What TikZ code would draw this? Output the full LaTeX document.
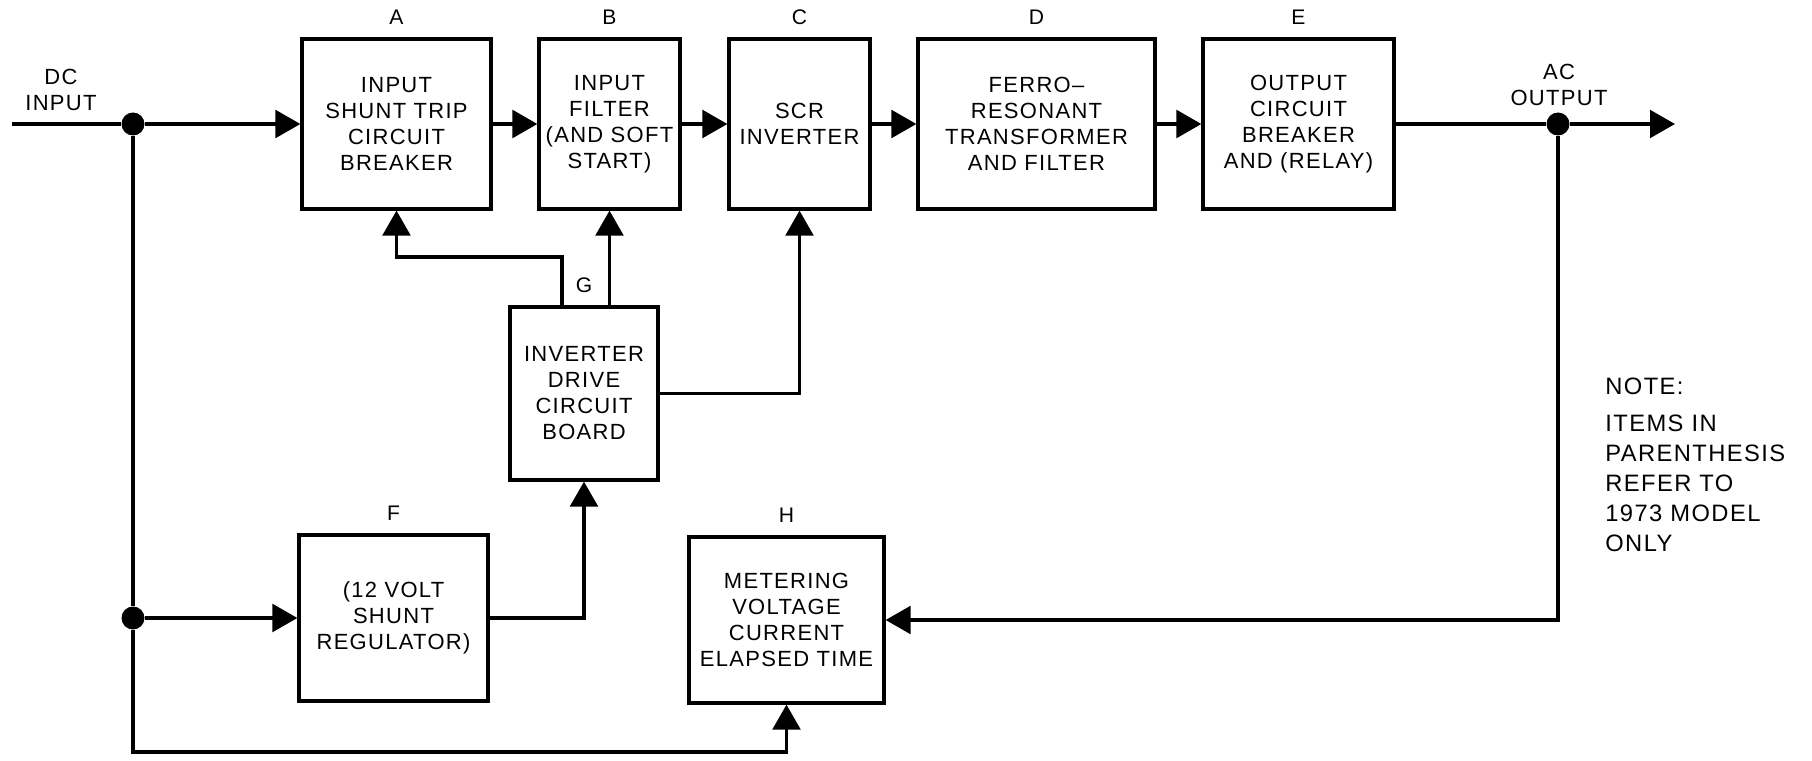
\documentclass[tikz,border=0pt]{standalone}
\usepackage{fontspec}
\setmainfont{Liberation Sans}[LetterSpace=6]
\usetikzlibrary{arrows.meta,positioning}

\tikzset{
  block/.style={draw, line width=1.8pt, align=center, inner sep=0pt,
    font=\fontsize{12.5}{14.8}\selectfont},
  tag/.style={inner sep=0pt, font=\fontsize{12}{14}\selectfont},
  wire/.style={line width=2.2pt},
  feed/.style={wire, -{Triangle[length=0.5cm,width=0.55cm]}},
  junction/.style={circle, fill, inner sep=0pt, minimum size=0.46cm},
}

\begin{document}
\begin{tikzpicture}
\useasboundingbox (0,0) rectangle (36.24,15.2);

% The power path along the top
\node[block, minimum width=3.78cm, minimum height=3.4cm] (A) at (7.93, 12.72) {INPUT\\SHUNT TRIP\\CIRCUIT\\BREAKER};
\node[block, minimum width=2.82cm, minimum height=3.4cm] (B) at (12.19, 12.72) {INPUT\\FILTER\\(AND SOFT\\START)};
\node[block, minimum width=2.82cm, minimum height=3.4cm] (C) at (15.99, 12.72) {SCR\\INVERTER};
\node[block, minimum width=4.74cm, minimum height=3.4cm] (D) at (20.73, 12.72) {FERRO--\\RESONANT\\TRANSFORMER\\AND FILTER};
\node[block, minimum width=3.82cm, minimum height=3.4cm] (E) at (25.97, 12.72) {OUTPUT\\CIRCUIT\\BREAKER\\AND (RELAY)};

% Drive, regulator and metering
\node[block, minimum width=2.96cm, minimum height=3.46cm] (G) at (11.68, 7.33) {INVERTER\\DRIVE\\CIRCUIT\\BOARD};
\node[block, minimum width=3.78cm, minimum height=3.32cm] (F) at (7.87, 2.84) {(12 VOLT\\SHUNT\\REGULATOR)};
\node[block, minimum width=3.9cm, minimum height=3.32cm] (H) at (15.73, 2.80) {METERING\\VOLTAGE\\CURRENT\\ELAPSED TIME};

% Letters over the blocks
\node[tag, above=0.25cm of A] (tagA) {A};
\node[tag, above=0.25cm of B] (tagB) {B};
\node[tag, above=0.25cm of C] (tagC) {C};
\node[tag, above=0.25cm of D] (tagD) {D};
\node[tag, above=0.25cm of E] (tagE) {E};
\node[tag, above=0.25cm of F] (tagF) {F};
\node[tag, above=0.25cm of G] (tagG) {G};
\node[tag, above=0.25cm of H] (tagH) {H};

% Input and output terminals
\node[align=center, inner sep=0pt, font=\fontsize{12.5}{14.8}\selectfont] (dclabel) at (1.22, 13.40) {DC\\INPUT};
\node[align=center, inner sep=0pt, font=\fontsize{12.5}{14.8}\selectfont] (aclabel) at (31.18, 13.50) {AC\\OUTPUT};
\coordinate (dcin) at (0.24, 12.72);
\coordinate (acout) at (33.50, 12.72);
\coordinate (bend) at (2.66, 0.16);
\node[junction] (j1) at (2.66, 12.72) {};
\node[junction] (j2) at (2.66, 2.84) {};
\node[junction] (j3) at (31.16, 12.72) {};

% Main path
\draw[wire] (dcin) -- (j1);
\draw[feed] (j1) -- (A.west);
\draw[feed] (A.east) -- (B.west);
\draw[feed] (B.east) -- (C.west);
\draw[feed] (C.east) -- (D.west);
\draw[feed] (D.east) -- (E.west);
\draw[wire] (E.east) -- (j3);
\draw[feed] (j3) -- (acout);

% DC feed to regulator and meter
\draw[wire] (j1) -- (j2);
\draw[feed] (j2) -- (F.west);
\draw[feed] (j2) -- (bend) -| (H.south);
\draw[feed] (F.east) -| (G.south);

% Drive board outputs
\draw[feed] ([xshift=-0.44cm]G.north) |- ([yshift=-0.92cm]A.south) -- (A.south);
\draw[feed] (G.north -| B.south) -- (B.south);
\draw[feed] (G.east) -| (C.south);

% AC sense to meter
\draw[feed] (j3) |- (H.east);

% The note
\node[anchor=north west, align=left, inner sep=0pt, font=\fontsize{13.5}{17}\selectfont] (note) at (32.10, 7.64) {NOTE:\\[4pt]ITEMS IN\\PARENTHESIS\\REFER TO\\1973 MODEL\\ONLY};

\end{tikzpicture}
\end{document}
